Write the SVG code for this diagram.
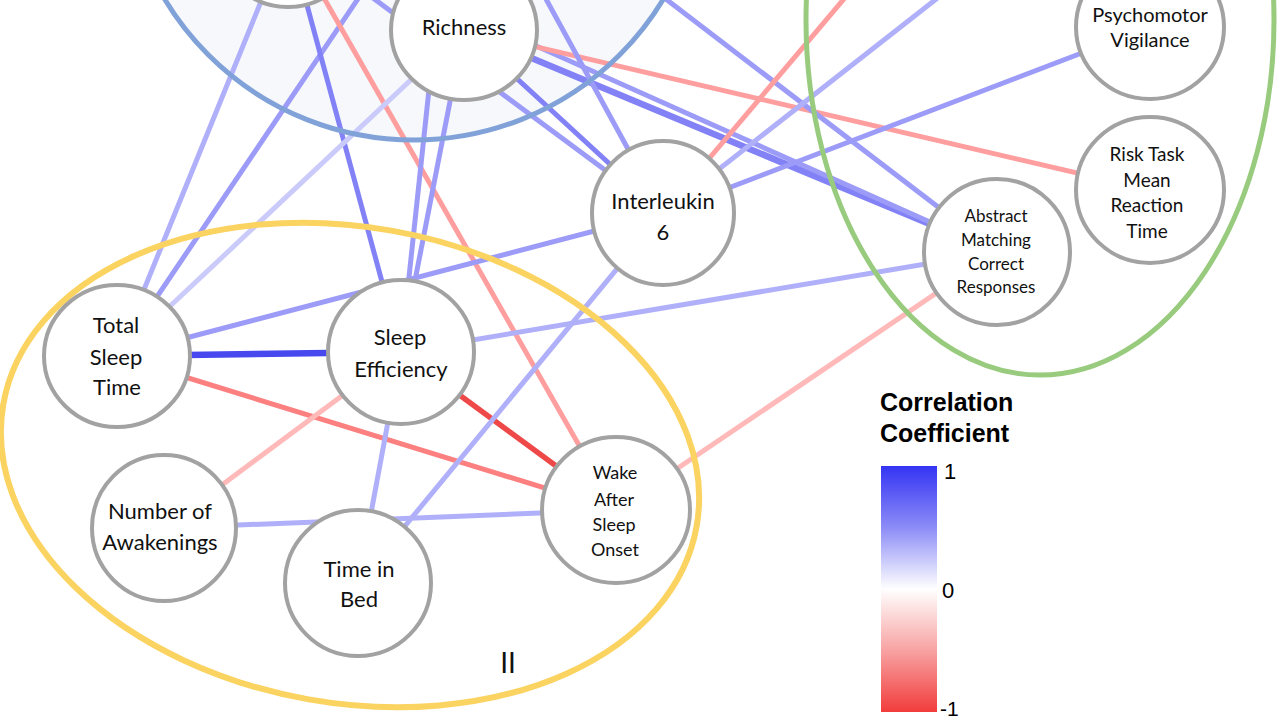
<svg xmlns="http://www.w3.org/2000/svg" width="1280" height="720" viewBox="0 0 1280 720">
  <defs>
    <linearGradient id="cbar" x1="0" y1="0" x2="0" y2="1">
      <stop offset="0" stop-color="#3434f4"/>
      <stop offset="0.25" stop-color="#8c8cf7"/>
      <stop offset="0.5" stop-color="#ffffff"/>
      <stop offset="0.75" stop-color="#f8a2a2"/>
      <stop offset="1" stop-color="#f23c3c"/>
    </linearGradient>
    <style>
      .edge { stroke-width: 5; stroke-linecap: butt; fill: none; }
      .b1 { stroke: #cacafb; }
      .b2 { stroke: #b0b0fa; }
      .b3 { stroke: #9c9cf8; }
      .b4 { stroke: #8282f6; }
      .b5 { stroke: #4848ef; stroke-width: 6.5; }
      .r1 { stroke: #ffb9b9; }
      .r2 { stroke: #ff9e9e; }
      .r3 { stroke: #fc8080; }
      .r4 { stroke: #ee4848; stroke-width: 5.5; }
      .node ellipse { fill: #ffffff; stroke: #a2a2a2; stroke-width: 4; }
      .node text { font-family: Lato, "Open Sans", "Liberation Sans", sans-serif; fill: #111111; text-anchor: middle; }
      .grp { fill: none; }
      .legend text { font-family: "Liberation Sans", Arial, sans-serif; fill: #000000; }
    </style>
  </defs>

  <rect x="0" y="0" width="1280" height="720" fill="#ffffff"/>

  <!-- group background -->
  <circle cx="414" cy="-151" r="291" fill="#f6f8fc"/>

  <g id="connectors">
    <line class="edge b2" x1="288" y1="-65" x2="117" y2="356"/>
    <line class="edge b3" x1="401" y1="-65" x2="117" y2="356"/>
    <line class="edge b4" x1="288" y1="-65" x2="401" y2="352"/>
    <line class="edge r2" x1="288" y1="-65" x2="616" y2="510"/>
    <line class="edge b1" x1="464" y1="30" x2="117" y2="356"/>
    <line class="edge b3" x1="464" y1="30" x2="401" y2="352"/>
    <line class="edge b3" x1="446" y1="-70" x2="401" y2="352"/>
    <line class="edge b3" x1="288" y1="-65" x2="663" y2="213"/>
    <line class="edge b4" x1="464" y1="30" x2="663" y2="213"/>
    <line class="edge b4" x1="464" y1="30" x2="997" y2="252" style="stroke-width:6.5"/>
    <line class="edge b3" x1="288" y1="-65" x2="997" y2="252"/>
    <line class="edge r2" x1="464" y1="30" x2="1150" y2="190"/>
    <line class="edge b3" x1="511" y1="-65" x2="663" y2="213"/>
    <line class="edge b3" x1="582" y1="-65" x2="997" y2="252"/>
    <line class="edge r2" x1="663" y1="213" x2="898" y2="-65"/>
    <line class="edge b2" x1="663" y1="213" x2="1018" y2="-65"/>
    <line class="edge b3" x1="663" y1="213" x2="1150" y2="27"/>
    <line class="edge b5" x1="117" y1="356" x2="401" y2="352"/>
    <line class="edge b3" x1="117" y1="356" x2="663" y2="213"/>
    <line class="edge b2" x1="401" y1="352" x2="997" y2="252"/>
    <line class="edge r3" x1="117" y1="356" x2="616" y2="510"/>
    <line class="edge r4" x1="401" y1="352" x2="616" y2="510"/>
    <line class="edge r1" x1="401" y1="352" x2="164" y2="528"/>
    <line class="edge b2" x1="401" y1="352" x2="358" y2="583"/>
    <line class="edge b2" x1="164" y1="528" x2="616" y2="510"/>
    <line class="edge b2" x1="663" y1="213" x2="358" y2="583"/>
    <line class="edge r1" x1="616" y1="510" x2="997" y2="252"/>
  </g>

  <!-- group outlines -->
  <circle class="grp" cx="414" cy="-151" r="291" stroke="#80a2d8" stroke-width="5"/>
  <ellipse class="grp" cx="1040" cy="20" rx="234" ry="355" stroke="#98cb7e" stroke-width="5"/>
  <ellipse class="grp" cx="350" cy="465" rx="352" ry="238" transform="rotate(10 350 465)" stroke="#fbd361" stroke-width="6"/>

  <g id="node-top" class="node">
    <ellipse cx="288" cy="-65" rx="72" ry="72"/>
  </g>
  <g id="node-richness" class="node">
    <ellipse cx="464" cy="30" rx="73" ry="70"/>
    <text x="464" y="35" font-size="22">Richness</text>
  </g>
  <g id="node-psychomotor" class="node">
    <ellipse cx="1150" cy="27" rx="74" ry="72"/>
    <text x="1150" y="22" font-size="20">Psychomotor</text>
    <text x="1150" y="47" font-size="20">Vigilance</text>
  </g>
  <g id="node-risk" class="node">
    <ellipse cx="1150" cy="190" rx="74" ry="73"/>
    <text x="1147" y="161" font-size="19">Risk Task</text>
    <text x="1147" y="187" font-size="19">Mean</text>
    <text x="1147" y="212" font-size="19">Reaction</text>
    <text x="1147" y="238" font-size="19">Time</text>
  </g>
  <g id="node-abstract" class="node">
    <ellipse cx="997" cy="252" rx="73" ry="73"/>
    <text x="996" y="222" font-size="17">Abstract</text>
    <text x="996" y="246" font-size="17">Matching</text>
    <text x="996" y="270" font-size="17">Correct</text>
    <text x="996" y="293" font-size="17">Responses</text>
  </g>
  <g id="node-interleukin" class="node">
    <ellipse cx="663" cy="213" rx="71" ry="72"/>
    <text x="663" y="209" font-size="22">Interleukin</text>
    <text x="663" y="240" font-size="22">6</text>
  </g>
  <g id="node-tst" class="node">
    <ellipse cx="117" cy="356" rx="73" ry="71"/>
    <text x="116" y="333" font-size="22">Total</text>
    <text x="116" y="365" font-size="22">Sleep</text>
    <text x="117" y="395" font-size="22">Time</text>
  </g>
  <g id="node-se" class="node">
    <ellipse cx="401" cy="352" rx="73" ry="72"/>
    <text x="400" y="345" font-size="22">Sleep</text>
    <text x="401" y="377" font-size="22">Efficiency</text>
  </g>
  <g id="node-na" class="node">
    <ellipse cx="164" cy="528" rx="72" ry="73"/>
    <text x="160" y="519" font-size="22">Number of</text>
    <text x="160" y="550" font-size="22">Awakenings</text>
  </g>
  <g id="node-tib" class="node">
    <ellipse cx="358" cy="583" rx="73" ry="73"/>
    <text x="359" y="577" font-size="22">Time in</text>
    <text x="359" y="607" font-size="22">Bed</text>
  </g>
  <g id="node-waso" class="node">
    <ellipse cx="616" cy="510" rx="74" ry="73"/>
    <text x="615" y="479" font-size="18">Wake</text>
    <text x="614" y="506" font-size="18">After</text>
    <text x="614" y="531" font-size="18">Sleep</text>
    <text x="615" y="556" font-size="18">Onset</text>
  </g>

  <text x="508" y="673" font-family="Lato, 'Liberation Sans', sans-serif" font-size="28" text-anchor="middle" fill="#111111">II</text>

  <g id="legend" class="legend">
    <text x="880" y="411" font-size="25" font-weight="bold">Correlation</text>
    <text x="880" y="442" font-size="25" font-weight="bold">Coefficient</text>
    <rect x="881" y="466" width="56" height="246" fill="url(#cbar)"/>
    <text x="944" y="479" font-size="22">1</text>
    <text x="942" y="598" font-size="22">0</text>
    <text x="940" y="716" font-size="21">-1</text>
  </g>
</svg>
